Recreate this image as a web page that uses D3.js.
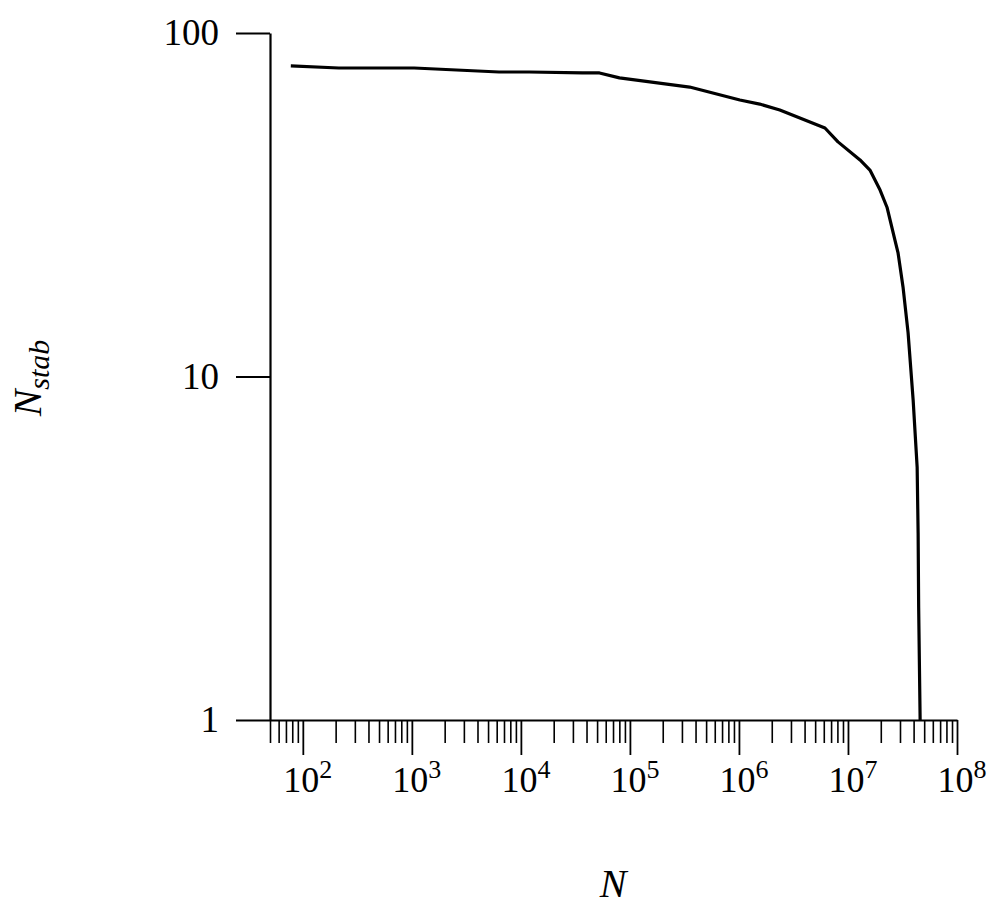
<!DOCTYPE html>
<html>
<head>
<meta charset="utf-8">
<script src="https://cdn.jsdelivr.net/npm/d3@7"></script>
<style>
  body { margin: 0; background: #fff; }
  text { font-family: "Times New Roman", Times, "Liberation Serif", Tinos, serif; fill: #000; }
</style>
</head>
<body>
<div id="chart"></div>
<script>
// datos
const nValues = [77.6, 214, 1050, 6300, 11900, 36600, 52600, 80200, 353000, 1.02e6, 1.55e6,
  2.37e6, 6.15e6, 8.1e6, 1.29e7, 1.59e7, 1.97e7, 2.28e7, 2.70e7, 2.88e7, 3.20e7, 3.56e7,
  3.96e7, 4.31e7, 4.40e7, 4.45e7, 4.59e7];
const nStabValues = [80.2, 79.1, 79.1, 77.0, 77.0, 76.5, 76.5, 74.0, 69.6, 63.8, 62.1,
  59.7, 52.9, 48.2, 42.7, 39.9, 34.9, 31.1, 24.9, 22.9, 18.2, 13.4,
  8.55, 5.45, 3.5, 2.13, 1];
const xMajorExp = [2, 3, 4, 5, 6, 7, 8];
const yTickValues = [1, 10, 100];

const width = 1004, height = 912;
const svg = d3.select("#chart").append("svg")
  .attr("width", width).attr("height", height);

// escalas logaritmicas
const x = d3.scaleLog().domain([50, 1e8]).range([270, 957]);
const y = d3.scaleLog().domain([1, 100]).range([720, 33]);

// ticks menores del eje x (2..9 de cada decada)
const minor = [];
for (let e = 1; e <= 7; e++) {
  for (let m = 1; m <= 9; m++) {
    const v = m * Math.pow(10, e);
    if (v >= 50 && v <= 1e8 && m !== 1) minor.push(v);
  }
}

const xAxisMinor = svg.append("g")
  .attr("transform", `translate(0,${y(1)})`)
  .call(d3.axisBottom(x).tickValues(minor).tickSize(23).tickSizeOuter(0).tickFormat(""));
xAxisMinor.select(".domain").attr("stroke-width", 2);
xAxisMinor.selectAll(".tick line").attr("stroke-width", 1.6);

const xAxisMajor = svg.append("g")
  .attr("transform", `translate(0,${y(1)})`)
  .call(d3.axisBottom(x).tickValues(xMajorExp.map(e => Math.pow(10, e))).tickSize(35).tickSizeOuter(0).tickFormat(""));
xAxisMajor.select(".domain").remove();
xAxisMajor.selectAll(".tick line").attr("stroke-width", 1.8);

// etiquetas 10^n
const labs = svg.append("g").selectAll("text")
  .data(xMajorExp).join("text")
  .attr("x", d => x(Math.pow(10, d)) + 5)
  .attr("y", 792)
  .attr("text-anchor", "middle")
  .style("font-size", "36px");
labs.append("tspan").text("10");
labs.append("tspan").text(d => d).attr("dy", -14).style("font-size", "26px");

// eje y
const yAxis = svg.append("g")
  .attr("transform", `translate(${x(50)},0)`)
  .call(d3.axisLeft(y).tickValues(yTickValues).tickSize(34).tickSizeOuter(0).tickFormat(""));
yAxis.select(".domain").attr("stroke-width", 2.2);
yAxis.selectAll(".tick line").attr("stroke-width", 2);

svg.append("g").selectAll("text")
  .data(yTickValues).join("text")
  .attr("x", 219)
  .attr("y", d => y(d) + 12)
  .attr("text-anchor", "end")
  .style("font-size", "37px")
  .text(d => d);

// curva
const line = d3.line().x(d => x(d[0])).y(d => y(d[1]));
svg.append("path")
  .datum(nValues.map((n, i) => [n, nStabValues[i]]))
  .attr("fill", "none")
  .attr("stroke", "#000")
  .attr("stroke-width", 3.2)
  .attr("stroke-linejoin", "round")
  .attr("d", line);

// titulos de los ejes
svg.append("text")
  .attr("x", 613).attr("y", 897)
  .attr("text-anchor", "middle")
  .style("font-size", "40px").style("font-style", "italic")
  .text("N");

const yl = svg.append("text")
  .attr("transform", "translate(41,378) rotate(-90)")
  .attr("text-anchor", "middle")
  .style("font-size", "40px").style("font-style", "italic");
yl.append("tspan").text("N");
yl.append("tspan").text("stab").attr("dy", 8).style("font-size", "30px");
</script>
</body>
</html>
